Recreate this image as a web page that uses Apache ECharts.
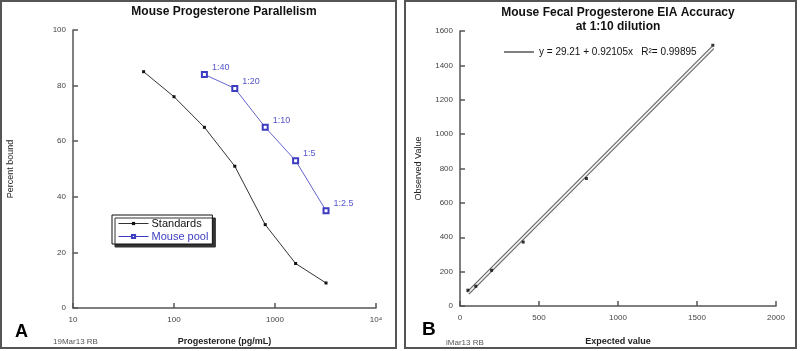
<!DOCTYPE html>
<html>
<head>
<meta charset="utf-8">
<script src="https://cdn.jsdelivr.net/npm/echarts@6/dist/echarts.min.js"></script>
<style>
  html, body { margin: 0; padding: 0; background: #fff; }
  #chart { width: 800px; height: 351px; }
</style>
</head>
<body>
<div id="chart"></div>
<script>
// panel A - parallelism
const standardDose = [50, 100, 200, 400, 800, 1600, 3200];
const standardBound = [85, 76, 65, 51, 30, 16, 9];
const poolDose = [200, 400, 800, 1600, 3200];
const poolBound = [84, 79, 65, 53, 35];
const poolLabels = ["1:40", "1:20", "1:10", "1:5", "1:2.5"];
const xTickLabelsA = ["10", "100", "1000", "10\u2074"];

// panel B - accuracy
const expectedVal = [50, 100, 200, 400, 800, 1600];
const observedVal = [92, 115, 208, 372, 742, 1517];
const fitX = [50, 1600];
const fitY = [75, 1503];
const fitName = "y = 29.21 + 0.92105x   R\u00b2= 0.99895";

const FONT = "Liberation Sans, Arial, sans-serif";
const BLUE = "#3c3cc0";
const AXIS = "#555";

let myChart = echarts.init(document.getElementById("chart"));

function axisBase() {
  return {
    axisLine: { show: true, lineStyle: { color: AXIS, width: 1.5 } },
    axisTick: { show: true, inside: true, length: 5, lineStyle: { color: AXIS, width: 1.5 } },
    splitLine: { show: false },
    axisLabel: { color: "#444", fontSize: 8, fontFamily: FONT, margin: 7, formatter: v => String(v) },
    nameTextStyle: { color: "#222", fontSize: 9, fontFamily: FONT }
  };
}

let xA = axisBase();
xA.axisLabel.formatter = function (v) {
  return xTickLabelsA[Math.round(Math.log10(v)) - 1];
};
xA.axisLabel.margin = 8;
xA.nameTextStyle.fontWeight = "bold";

let yA = axisBase();
let xB = axisBase();
xB.axisLabel.margin = 8;
xB.nameTextStyle.fontWeight = "bold";
let yB = axisBase();

let option = {
  backgroundColor: "#fff",
  animation: false,
  grid: [
    { left: 73, top: 30, width: 303, height: 278 },
    { left: 460, top: 31, width: 316, height: 277 }
  ],
  xAxis: [
    Object.assign(xA, {
      gridIndex: 0, type: "log", logBase: 10, min: 10, max: 10000,
      name: "Progesterone (pg/mL)", nameLocation: "middle", nameGap: 29
    }),
    Object.assign(xB, {
      gridIndex: 1, type: "value", min: 0, max: 2000, interval: 500,
      name: "Expected value", nameLocation: "middle", nameGap: 31
    })
  ],
  yAxis: [
    Object.assign(yA, {
      gridIndex: 0, type: "value", min: 0, max: 100, interval: 20,
      name: "Percent bound", nameLocation: "middle", nameGap: 58
    }),
    Object.assign(yB, {
      gridIndex: 1, type: "value", min: 0, max: 1600, interval: 200,
      name: "Observed Value", nameLocation: "middle", nameGap: 37
    })
  ],
  legend: [
    {
      left: 112, top: 215, orient: "vertical",
      data: [
        { name: "Standards", textStyle: { color: "#111" } },
        { name: "Mouse pool", textStyle: { color: BLUE } }
      ],
      selectedMode: false,
      itemWidth: 30, itemHeight: 4, itemGap: 2,
      padding: [3, 4, 2, 6],
      backgroundColor: "#fff",
      borderColor: "#111", borderWidth: 1,
      shadowColor: "#333", shadowBlur: 0, shadowOffsetX: 3, shadowOffsetY: 3,
      lineStyle: { width: 1 },
      textStyle: { fontSize: 11, fontFamily: FONT, padding: [0, 0, 0, -2] }
    },
    {
      left: 499, top: 42,
      data: [{ name: fitName, icon: "rect" }],
      selectedMode: false,
      itemWidth: 30, itemHeight: 1,
      itemStyle: { color: "#000" },
      textStyle: { fontSize: 10, color: "#111", fontFamily: FONT }
    }
  ],
  series: [
    {
      name: "Standards", type: "line", xAxisIndex: 0, yAxisIndex: 0,
      data: standardDose.map((d, i) => [d, standardBound[i]]),
      symbol: "rect", symbolSize: 3,
      itemStyle: { color: "#111" },
      lineStyle: { color: "#333", width: 1 }
    },
    {
      name: "Mouse pool", type: "line", xAxisIndex: 0, yAxisIndex: 0,
      data: poolDose.map((d, i) => [d, poolBound[i]]),
      symbol: "emptyRect", symbolSize: 5,
      itemStyle: { color: BLUE, borderWidth: 1 },
      lineStyle: { color: BLUE, width: 0.8 },
      label: {
        show: true, position: "right", distance: 4, offset: [0, -7],
        formatter: p => poolLabels[p.dataIndex],
        color: "#5555cc", fontSize: 9, fontFamily: FONT
      }
    },
    {
      name: fitName, type: "line", xAxisIndex: 1, yAxisIndex: 1,
      data: fitX.map((x, i) => [x, fitY[i]]),
      symbol: "none",
      itemStyle: { color: "#000" },
      lineStyle: { color: "#666", width: 4 }
    },
    {
      name: "fit-inner", type: "line", xAxisIndex: 1, yAxisIndex: 1,
      data: fitX.map((x, i) => [x, fitY[i]]),
      symbol: "none",
      lineStyle: { color: "#f2f2f2", width: 1.8 }
    },
    {
      name: "Observed", type: "scatter", xAxisIndex: 1, yAxisIndex: 1,
      data: expectedVal.map((x, i) => [x, observedVal[i]]),
      symbol: "rect", symbolSize: 3, z: 5,
      itemStyle: { color: "#000" }
    }
  ],
  graphic: [
    { type: "rect", shape: { x: 1, y: 1, width: 395, height: 347 }, style: { fill: null, stroke: "#555", lineWidth: 2 }, z: -1 },
    { type: "rect", shape: { x: 405, y: 1, width: 391, height: 347 }, style: { fill: null, stroke: "#555", lineWidth: 2 }, z: -1 },
    { type: "text", x: 224, y: 12, style: { text: "Mouse Progesterone Parallelism", font: "bold 12px " + FONT, fill: "#111", textAlign: "center", textVerticalAlign: "middle" } },
    { type: "text", x: 618, y: 13, style: { text: "Mouse Fecal Progesterone EIA Accuracy", font: "bold 12px " + FONT, fill: "#111", textAlign: "center", textVerticalAlign: "middle" } },
    { type: "text", x: 618, y: 26.5, style: { text: "at 1:10 dilution", font: "bold 12px " + FONT, fill: "#111", textAlign: "center", textVerticalAlign: "middle" } },
    { type: "text", x: 15, y: 332, style: { text: "A", font: "bold 18px " + FONT, fill: "#000", textVerticalAlign: "middle" } },
    { type: "text", x: 422, y: 330, style: { text: "B", font: "bold 19px " + FONT, fill: "#000", textVerticalAlign: "middle" } },
    { type: "text", x: 53, y: 342, style: { text: "19Mar13 RB", font: "8px " + FONT, fill: "#555", textVerticalAlign: "middle" } },
    { type: "text", x: 446, y: 343, style: { text: "iMar13 RB", font: "8px " + FONT, fill: "#555", textVerticalAlign: "middle" } }
  ]
};

myChart.setOption(option, true);
window.addEventListener("resize", () => {
  myChart.resize();
});
</script>
</body>
</html>
